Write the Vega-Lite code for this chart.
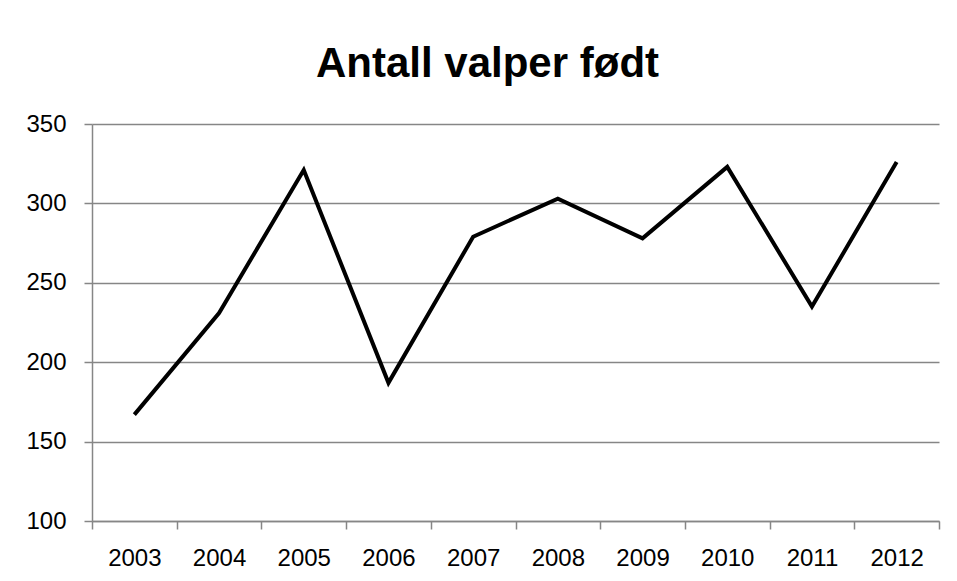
{
  "$schema": "https://vega.github.io/schema/vega-lite/v6.json",
  "width": 847,
  "height": 397,
  "autosize": {"type": "none"},
  "padding": {"left": 92, "top": 124, "right": 18, "bottom": 60},
  "background": "white",
  "config": {"view": {"stroke": null}, "font": "Liberation Sans"},
  "title": {
    "text": "Antall valper født",
    "fontSize": 42,
    "fontWeight": "bold",
    "font": "Liberation Sans",
    "color": "#000000",
    "anchor": "middle",
    "dx": -28,
    "offset": 26
  },
  "data": {
    "values": [
      {"year": "2003", "value": 167},
      {"year": "2004", "value": 231},
      {"year": "2005", "value": 321},
      {"year": "2006", "value": 187},
      {"year": "2007", "value": 279},
      {"year": "2008", "value": 303},
      {"year": "2009", "value": 278},
      {"year": "2010", "value": 323},
      {"year": "2011", "value": 235},
      {"year": "2012", "value": 326}
    ]
  },
  "mark": {"type": "line", "color": "#000000", "strokeWidth": 4, "strokeJoin": "miter"},
  "encoding": {
    "x": {
      "field": "year",
      "type": "ordinal",
      "scale": {"type": "band", "paddingInner": 0, "paddingOuter": 0},
      "axis": {
        "title": null,
        "labelAngle": 0,
        "labelFontSize": 24,
        "labelColor": "#000000",
        "labelPadding": 17,
        "domainColor": "#868686",
        "domainWidth": 1.5,
        "tickColor": "#868686",
        "tickSize": 8,
        "tickWidth": 1.5,
        "tickBand": "extent",
        "grid": false
      }
    },
    "y": {
      "field": "value",
      "type": "quantitative",
      "scale": {"domain": [100, 350], "nice": false, "zero": false},
      "axis": {
        "title": null,
        "values": [100, 150, 200, 250, 300, 350],
        "labelFontSize": 24,
        "labelColor": "#000000",
        "labelPadding": 18,
        "domainColor": "#868686",
        "domainWidth": 1.5,
        "tickColor": "#868686",
        "tickSize": 8,
        "tickWidth": 1.5,
        "grid": true,
        "gridColor": "#868686",
        "gridWidth": 1.5
      }
    }
  }
}
